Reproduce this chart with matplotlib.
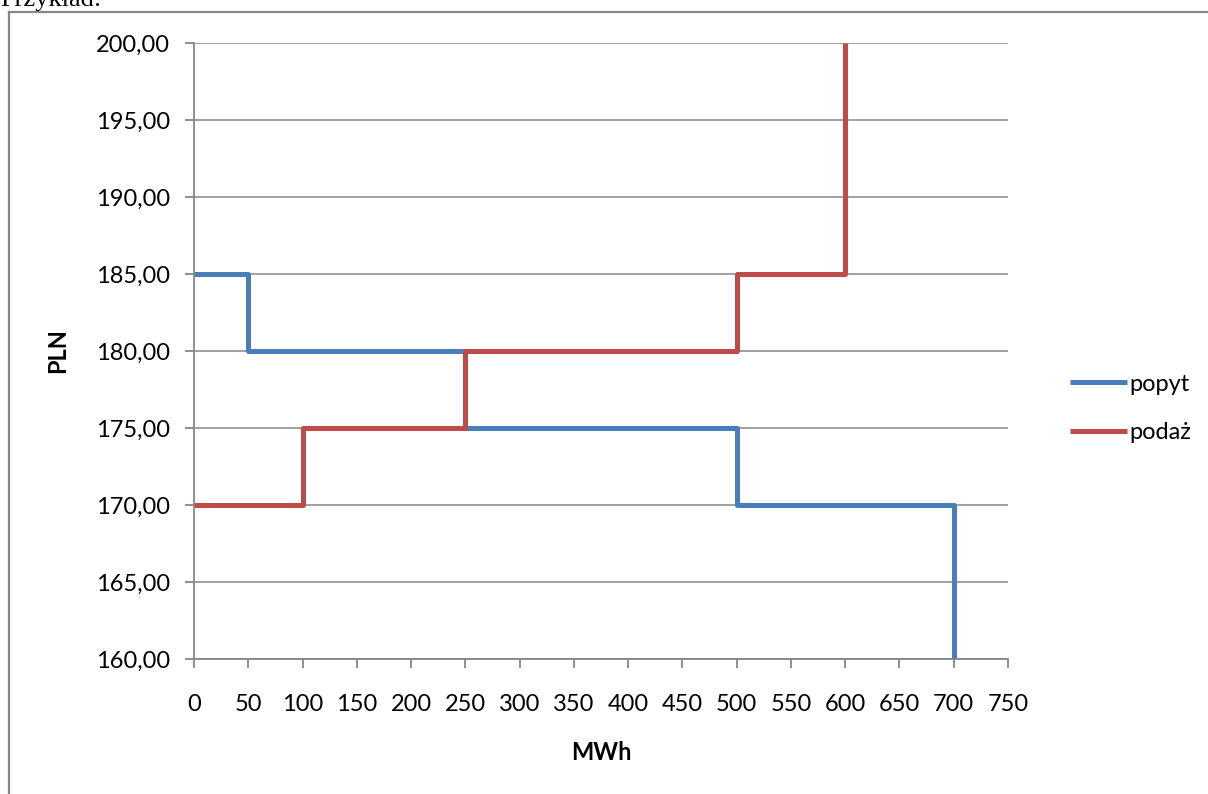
import matplotlib.pyplot as plt
from matplotlib.ticker import FuncFormatter
from matplotlib.lines import Line2D

# Data: step curves (MWh, PLN)
popyt_x = [0, 50, 50, 250, 250, 500, 500, 700, 700]
popyt_y = [185, 185, 180, 180, 175, 175, 170, 170, 160]
podaz_x = [0, 100, 100, 250, 250, 500, 500, 600, 600]
podaz_y = [170, 170, 175, 175, 180, 180, 185, 185, 200]

x_ticks = list(range(0, 751, 50))
y_ticks = list(range(160, 201, 5))

plt.rcParams['font.family'] = ['Lato', 'DejaVu Sans']
gray = '#868686'
fs = 17

fig = plt.figure(figsize=(12.08, 7.94), dpi=100)
ax = fig.add_axes([0.1606, 0.170, 0.6738, 0.7758])

ax.plot(popyt_x, popyt_y, color='#4A7EBB', lw=3.6, label='popyt', solid_capstyle='butt')
ax.plot(podaz_x, podaz_y, color='#BE4B48', lw=3.6, label='podaż', solid_capstyle='butt')

ax.set_xlim(0, 750)
ax.set_ylim(160, 200)
ax.set_xticks(x_ticks)
ax.set_yticks(y_ticks)
ax.yaxis.set_major_formatter(FuncFormatter(lambda v, p: f'{v:.2f}'.replace('.', ',')))
ax.grid(axis='y', color=gray, lw=1.1)
ax.set_axisbelow(True)

for s in ['top', 'right']:
    ax.spines[s].set_visible(False)
for s in ['left', 'bottom']:
    ax.spines[s].set_color(gray)
    ax.spines[s].set_linewidth(1.3)

ax.tick_params(axis='both', direction='out', color=gray, width=1.3, length=6.5, labelsize=fs)
ax.tick_params(axis='y', pad=11)
ax.tick_params(axis='x', pad=19)

ax.set_xlabel('MWh', fontsize=fs, fontweight='bold', va='center')
ax.set_ylabel('PLN', fontsize=fs, fontweight='bold', va='center')
ax.xaxis.set_label_coords(0.5, -0.151)
ax.yaxis.set_label_coords(-0.167, 0.5)

ax.legend(loc='center left', bbox_to_anchor=(1.05, 0.407), frameon=False, fontsize=fs,
          handlelength=2.4, handletextpad=0.1, labelspacing=1.15)

# outer chart border (cropped at right and bottom)
fig.add_artist(Line2D([9/1208, 9/1208], [0, 1-12/794], color=gray, lw=1.6))
fig.add_artist(Line2D([9/1208, 1207/1208], [1-12/794, 1-12/794], color=gray, lw=1.6))

# caption text cut off at the top edge
fig.text(0.0, 1 - 6/794, 'Przykład:', family='Liberation Serif', fontsize=19, va='baseline', ha='left')

fig.savefig('out.png', dpi=100)
